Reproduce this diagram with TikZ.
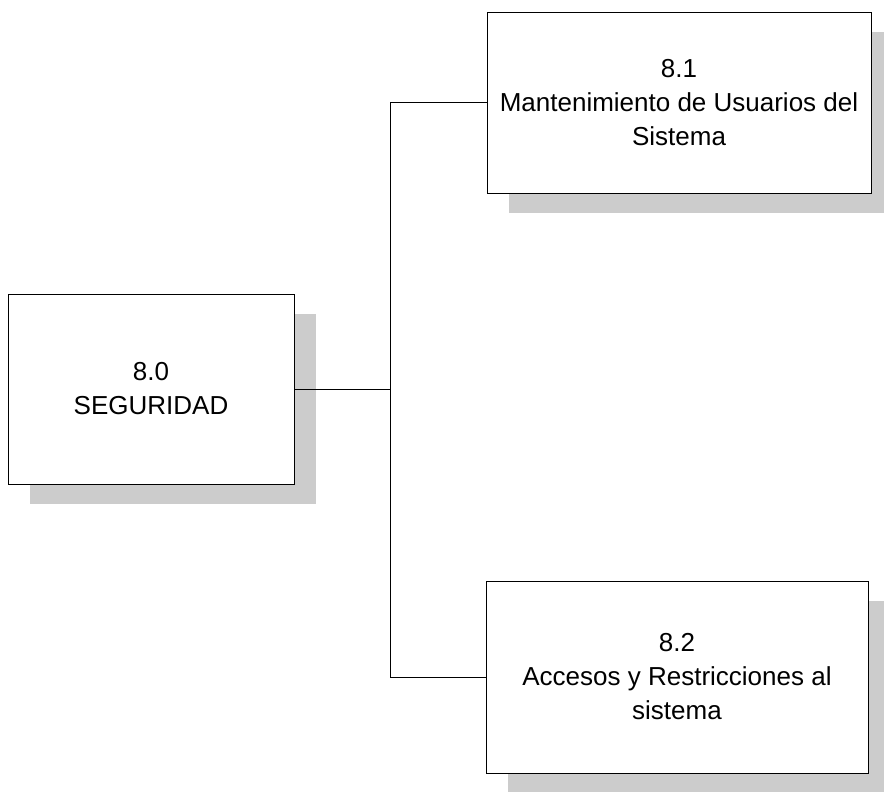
\documentclass[tikz,border=0pt]{standalone}
\usepackage{fontspec}
\setmainfont{Liberation Sans}
\usetikzlibrary{positioning,shadows}

\begin{document}
\begin{tikzpicture}[
    x=1pt, y=1pt,
    box/.style={rectangle, draw, line width=0.8pt, fill=white, align=center,
        font=\fontsize{26}{34}\selectfont, inner sep=0pt,
        drop shadow={shadow xshift=22pt, shadow yshift=-20pt, fill=black!20, opacity=1}},
    link/.style={line width=0.8pt}
]
    \useasboundingbox (0,0) rectangle (884,792);

    \node[box, minimum width=286pt, minimum height=190pt] (seg) at (151,403) {8.0\\SEGURIDAD};
    \node[box, minimum width=384pt, minimum height=181pt] (usr) at (679,689.5) {8.1\\Mantenimiento de Usuarios del\\Sistema};
    \node[box, minimum width=382pt, minimum height=192pt] (acc) at (677,115) {8.2\\Accesos y Restricciones al\\sistema};

    \coordinate (junc) at (390,403);

    \draw[link] (seg.east) -- (junc);
    \draw[link] (usr.west) -| (junc);
    \draw[link] (acc.west) -| (junc);
\end{tikzpicture}
\end{document}
